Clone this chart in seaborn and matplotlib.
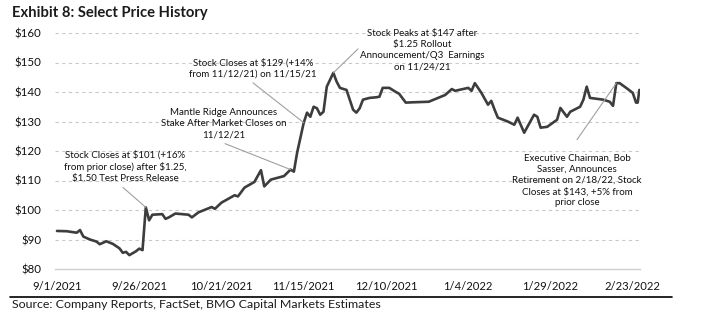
import matplotlib
matplotlib.use("Agg")
import matplotlib.pyplot as plt
from matplotlib.lines import Line2D
import pandas as pd
import seaborn as sns

# ---------------- data ----------------
day_offsets = [0, 3, 6, 7, 8, 10, 12, 13, 15, 17, 19, 20, 21, 22, 24, 25, 26,
               27, 28, 29, 32, 33, 34, 36, 40, 41, 43, 47, 48, 50, 54, 55, 57,
               60, 61, 62, 63, 65, 69, 71, 72, 73, 75, 76, 77, 78, 79, 80, 81,
               82, 84, 85, 86, 88, 90, 91, 92, 93, 95, 97, 98, 99, 101, 103,
               104, 106, 108, 113, 118, 120, 121, 125, 126, 127, 129, 131, 132,
               133, 134, 137, 139, 140, 142, 145, 146, 147, 149, 152, 153, 155,
               156, 159, 160, 161, 162, 166, 168, 169, 170, 171, 173, 175, 176,
               176.5, 177]
prices = [92.9, 92.8, 92.3, 93.2, 91.0, 90.0, 89.3, 88.4, 89.4, 88.5, 87.0,
          85.5, 85.8, 84.7, 86.0, 86.9, 86.4,
          100.9, 96.5, 98.4, 98.6, 97.0, 97.5, 98.8, 98.4, 97.5, 99.2, 101.0,
          100.4, 102.5, 105.0, 104.6, 107.6,
          109.5, 111.5, 113.5, 108.0, 110.3, 111.5, 113.7, 113.0, 119.5, 129.6,
          133.0, 131.6, 135.0, 134.5, 132.3, 133.3,
          141.8, 146.5, 143.5, 141.4, 140.7, 134.0, 133.0, 134.5, 137.4, 138.0,
          138.2, 138.4, 141.4, 141.4, 140.0,
          139.4, 136.4, 136.5, 136.7, 139.0, 141.0, 140.4, 141.4, 140.4, 143.0,
          139.7, 135.7, 137.0,
          134.0, 131.3, 130.0, 128.9, 131.3, 126.2, 132.3, 131.6, 127.9, 128.2,
          130.6, 134.6, 131.6,
          133.3, 135.0, 137.4, 141.8, 138.0, 137.4, 136.7, 135.3, 143.0, 143.0,
          141.4, 139.7, 136.4,
          136.4, 140.7]
start_date = "2021-09-01"
x_tick_labels = ["9/1/2021", "9/26/2021", "10/21/2021", "11/15/2021",
                 "12/10/2021", "1/4/2022", "1/29/2022", "2/23/2022"]
y_ticks = [80, 90, 100, 110, 120, 130, 140, 150, 160]

notes = [
    "Stock Closes at $101 (+16%\nfrom prior close) after $1.25,\n$1.50 Test Press Release",
    "Mantle Ridge Announces\nStake After Market Closes on\n11/12/21",
    "Stock Closes at $129 (+14%\nfrom 11/12/21) on 11/15/21",
    "Stock Peaks at $147 after\n$1.25 Rollout\nAnnouncement/Q3  Earnings\non 11/24/21",
    "Executive Chairman, Bob\nSasser, Announces\nRetirement on 2/18/22, Stock\nCloses at $143, +5% from\nprior close",
]
note_target_days = [27, 71, 75, 84, 170]

# ---------------- figure ----------------
sns.set_style("white")
plt.rcParams["font.family"] = ["Lato", "DejaVu Sans"]

t0 = pd.Timestamp(start_date)
df = pd.DataFrame({
    "date": [t0 + pd.Timedelta(days=d) for d in day_offsets],
    "price": prices,
})

fig = plt.figure(figsize=(7.11, 3.26), dpi=100)
ax = fig.add_axes([55 / 711, 1 - 269 / 326, (640 - 55) / 711, (269 - 33) / 326])

sns.lineplot(data=df, x="date", y="price", ax=ax, color="#3d3d3d",
             linewidth=1.9, sort=True, estimator=None)
for ln in ax.lines:
    ln.set_solid_joinstyle("round")
    ln.set_solid_capstyle("round")

ax.set_xlim(t0 - pd.Timedelta(days=0.6), t0 + pd.Timedelta(days=177.2))
ax.set_ylim(80, 160)
tick_dates = [pd.to_datetime(s, format="%m/%d/%Y") for s in x_tick_labels]
ax.set_xticks(tick_dates)
ax.set_xticklabels(x_tick_labels, fontsize=8.1, color="#111111")
ax.set_yticks(y_ticks)
ax.set_yticklabels(["\\$%d" % v for v in y_ticks], fontsize=8.3, color="#111111")
ax.set_xlabel("")
ax.set_ylabel("")

for v in y_ticks[1:]:
    ax.axhline(v, color="#c9c9c9", linewidth=0.8, linestyle=(0, (3, 3)), zorder=0)

for s in ["top", "right", "left"]:
    ax.spines[s].set_visible(False)
ax.spines["bottom"].set_color("#cfcfcf")
ax.spines["bottom"].set_linewidth(1.0)
ax.tick_params(axis="x", direction="in", length=3, color="#cfcfcf", pad=8.5)
ax.tick_params(axis="y", length=0, pad=10)


def px_to_data(xp, yp):
    return t0 + pd.Timedelta(days=(xp - 57) / 3.29), 160 - (yp - 33) / 2.96


text_px = [(125, 167), (224, 124), (253, 68.5), (422, 50.5), (577, 181)]
leader_px = [(123, 188), (225, 144), (253, 83), (358, 49), (577, 140)]

for note, tday, tp, lp in zip(notes, note_target_days, text_px, leader_px):
    tx, ty = px_to_data(*tp)
    ax.text(tx, ty, note, ha="center", va="center", fontsize=7,
            linespacing=1.3, color="#111111", parse_math=False, clip_on=False)
    lx, ly = px_to_data(*lp)
    tgt_price = df.loc[df["date"] == t0 + pd.Timedelta(days=tday), "price"].iloc[0]
    ax.annotate("", xy=(t0 + pd.Timedelta(days=tday), tgt_price),
                xytext=(lx, ly),
                arrowprops=dict(arrowstyle="-", color="#a0a0a0", lw=0.8,
                                shrinkA=0, shrinkB=0),
                annotation_clip=False)

fig.text(12 / 711, 1 - 13 / 326, "Exhibit 8: Select Price History",
         fontsize=10.6, fontweight="bold", color="#1b1b1b", va="center", ha="left")
fig.text(12 / 711, 1 - 304 / 326,
         "Source: Company Reports, FactSet, BMO Capital Markets Estimates",
         fontsize=8.9, color="#1b1b1b", va="center", ha="left")
fig.add_artist(Line2D([10 / 711, 672 / 711], [1 - 296.5 / 326] * 2,
                      transform=fig.transFigure, color="black", linewidth=1.2))

fig.savefig("out.png", dpi=100)
